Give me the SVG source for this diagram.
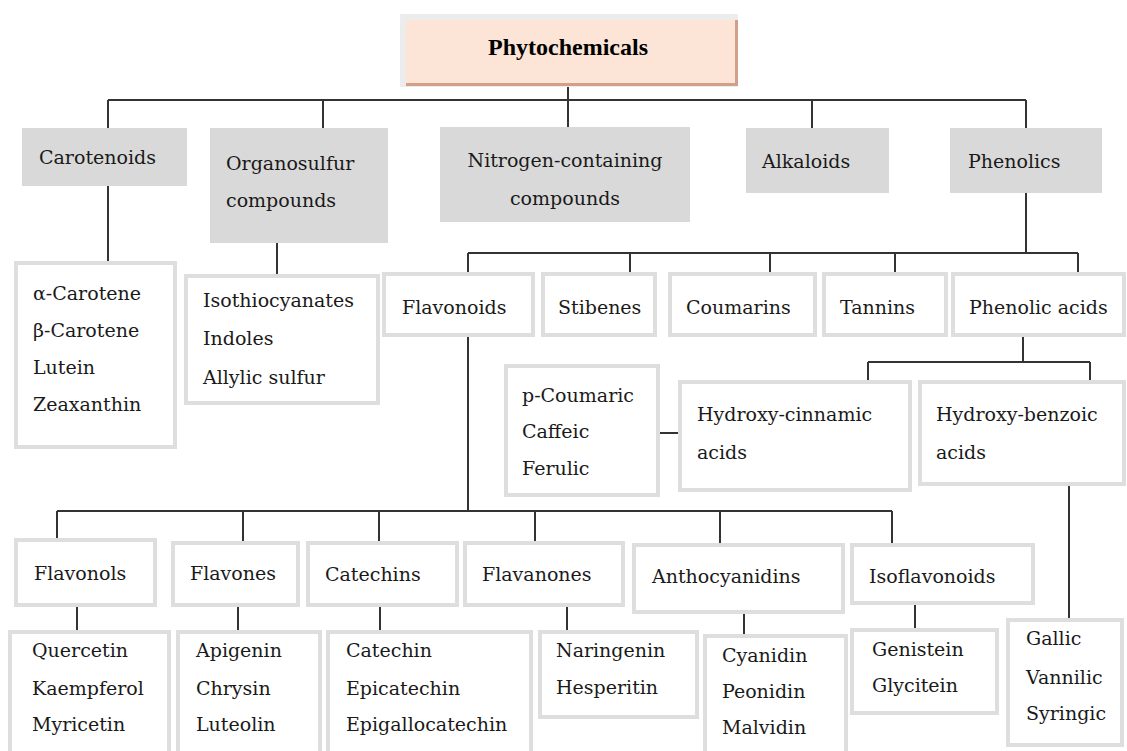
<svg xmlns="http://www.w3.org/2000/svg" width="1127" height="751" viewBox="0 0 1127 751">
<style>
.t{font-family:"DejaVu Serif","Liberation Serif",serif;font-size:19px;fill:#1a1a1a}
.b{font-family:"Liberation Serif",serif;font-weight:bold;font-size:24px}
.g{fill:#d9d9d9}
.w{fill:#fff;stroke:#dedede;stroke-width:4}
.c line{stroke:#333;stroke-width:2}
</style>
<rect width="1127" height="751" fill="#fff"/>
<g class="c">
<line x1="568" y1="86" x2="568" y2="127"/>
<line x1="108" y1="100" x2="1026" y2="100"/>
<line x1="108" y1="100" x2="108" y2="128"/>
<line x1="323" y1="100" x2="323" y2="128"/>
<line x1="812" y1="100" x2="812" y2="128"/>
<line x1="1026" y1="100" x2="1026" y2="128"/>
<line x1="108" y1="186" x2="108" y2="263"/>
<line x1="277" y1="243" x2="277" y2="276"/>
<line x1="1026" y1="193" x2="1026" y2="253"/>
<line x1="468" y1="253" x2="1078" y2="253"/>
<line x1="468" y1="253" x2="468" y2="274"/>
<line x1="630" y1="253" x2="630" y2="274"/>
<line x1="770" y1="253" x2="770" y2="274"/>
<line x1="895" y1="253" x2="895" y2="274"/>
<line x1="1078" y1="253" x2="1078" y2="274"/>
<line x1="1023" y1="336" x2="1023" y2="362"/>
<line x1="868" y1="362" x2="1090" y2="362"/>
<line x1="868" y1="362" x2="868" y2="382"/>
<line x1="1090" y1="362" x2="1090" y2="382"/>
<line x1="658" y1="433" x2="680" y2="433"/>
<line x1="1069" y1="484" x2="1069" y2="620"/>
<line x1="468" y1="336" x2="468" y2="511"/>
<line x1="57" y1="511" x2="892" y2="511"/>
<line x1="57" y1="511" x2="57" y2="540"/>
<line x1="243" y1="511" x2="243" y2="543"/>
<line x1="379" y1="511" x2="379" y2="543"/>
<line x1="535" y1="511" x2="535" y2="543"/>
<line x1="720" y1="511" x2="720" y2="545"/>
<line x1="892" y1="511" x2="892" y2="545"/>
<line x1="77" y1="605" x2="77" y2="632"/>
<line x1="238" y1="605" x2="238" y2="632"/>
<line x1="380" y1="605" x2="380" y2="632"/>
<line x1="567" y1="605" x2="567" y2="632"/>
<line x1="744" y1="612" x2="744" y2="636"/>
<line x1="915" y1="603" x2="915" y2="630"/>
</g>
<g id="phytochemicals">
<rect x="400" y="14" width="338" height="73" fill="#ececec"/>
<rect x="406" y="20" width="332" height="66" fill="#d2a08a"/>
<rect x="406" y="20" width="329" height="63" fill="#fce4d6"/>
<text class="b" x="568" y="55" text-anchor="middle">Phytochemicals</text>
</g>
<g id="carotenoids"><rect class="g" x="22" y="128" width="165" height="58"/><text class="t" x="39" y="164">Carotenoids</text></g>
<g id="organosulfur"><rect class="g" x="210" y="128" width="178" height="115"/><text class="t" x="226" y="170">Organosulfur</text><text class="t" x="226" y="207">compounds</text></g>
<g id="nitrogen"><rect class="g" x="440" y="127" width="250" height="95"/><text class="t" x="565" y="167" text-anchor="middle">Nitrogen-containing</text><text class="t" x="565" y="205" text-anchor="middle">compounds</text></g>
<g id="alkaloids"><rect class="g" x="746" y="128" width="143" height="65"/><text class="t" x="762" y="168">Alkaloids</text></g>
<g id="phenolics"><rect class="g" x="950" y="128" width="152" height="65"/><text class="t" x="968" y="168">Phenolics</text></g>
<g id="carotene-list"><rect class="w" x="16" y="263" width="159" height="184"/><text class="t" x="33" y="300">α-Carotene</text><text class="t" x="33" y="337">β-Carotene</text><text class="t" x="33" y="374">Lutein</text><text class="t" x="33" y="411">Zeaxanthin</text></g>
<g id="organosulfur-list"><rect class="w" x="186" y="276" width="192" height="127"/><text class="t" x="203" y="307">Isothiocyanates</text><text class="t" x="203" y="345">Indoles</text><text class="t" x="203" y="384">Allylic sulfur</text></g>
<g id="flavonoids"><rect class="w" x="384" y="274" width="149" height="61"/><text class="t" x="402" y="314">Flavonoids</text></g>
<g id="stibenes"><rect class="w" x="543" y="274" width="112" height="61"/><text class="t" x="558" y="314">Stibenes</text></g>
<g id="coumarins"><rect class="w" x="670" y="274" width="145" height="61"/><text class="t" x="686" y="314">Coumarins</text></g>
<g id="tannins"><rect class="w" x="824" y="274" width="122" height="61"/><text class="t" x="840" y="314">Tannins</text></g>
<g id="phenolic-acids"><rect class="w" x="953" y="274" width="171" height="61"/><text class="t" x="969" y="314">Phenolic acids</text></g>
<g id="cinnamic-list"><rect class="w" x="506" y="366" width="152" height="129"/><text class="t" x="522" y="402">p-Coumaric</text><text class="t" x="522" y="438">Caffeic</text><text class="t" x="522" y="475">Ferulic</text></g>
<g id="hydroxy-cinnamic"><rect class="w" x="680" y="382" width="230" height="108"/><text class="t" x="697" y="421">Hydroxy-cinnamic</text><text class="t" x="697" y="459">acids</text></g>
<g id="hydroxy-benzoic"><rect class="w" x="920" y="382" width="204" height="102"/><text class="t" x="936" y="421">Hydroxy-benzoic</text><text class="t" x="936" y="459">acids</text></g>
<g id="flavonols"><rect class="w" x="16" y="540" width="139" height="65"/><text class="t" x="34" y="580">Flavonols</text></g>
<g id="flavones"><rect class="w" x="173" y="543" width="125" height="62"/><text class="t" x="190" y="580">Flavones</text></g>
<g id="catechins"><rect class="w" x="308" y="543" width="149" height="62"/><text class="t" x="325" y="581">Catechins</text></g>
<g id="flavanones"><rect class="w" x="465" y="543" width="158" height="62"/><text class="t" x="482" y="581">Flavanones</text></g>
<g id="anthocyanidins"><rect class="w" x="634" y="545" width="209" height="67"/><text class="t" x="652" y="583">Anthocyanidins</text></g>
<g id="isoflavonoids"><rect class="w" x="852" y="545" width="181" height="58"/><text class="t" x="869" y="583">Isoflavonoids</text></g>
<g id="flavonol-list"><rect class="w" x="10" y="632" width="159" height="125"/><text class="t" x="32" y="657">Quercetin</text><text class="t" x="32" y="695">Kaempferol</text><text class="t" x="32" y="731">Myricetin</text></g>
<g id="flavone-list"><rect class="w" x="178" y="632" width="142" height="125"/><text class="t" x="196" y="657">Apigenin</text><text class="t" x="196" y="695">Chrysin</text><text class="t" x="196" y="731">Luteolin</text></g>
<g id="catechin-list"><rect class="w" x="328" y="632" width="203" height="125"/><text class="t" x="346" y="657">Catechin</text><text class="t" x="346" y="695">Epicatechin</text><text class="t" x="346" y="731">Epigallocatechin</text></g>
<g id="flavanone-list"><rect class="w" x="540" y="632" width="157" height="85"/><text class="t" x="556" y="657">Naringenin</text><text class="t" x="556" y="694">Hesperitin</text></g>
<g id="anthocyanidin-list"><rect class="w" x="705" y="636" width="141" height="121"/><text class="t" x="722" y="662">Cyanidin</text><text class="t" x="722" y="698">Peonidin</text><text class="t" x="722" y="734">Malvidin</text></g>
<g id="isoflavonoid-list"><rect class="w" x="852" y="630" width="145" height="83"/><text class="t" x="872" y="656">Genistein</text><text class="t" x="872" y="692">Glycitein</text></g>
<g id="benzoic-list"><rect class="w" x="1008" y="620" width="114" height="125"/><text class="t" x="1026" y="645">Gallic</text><text class="t" x="1026" y="684">Vannilic</text><text class="t" x="1026" y="720">Syringic</text></g>
</svg>
